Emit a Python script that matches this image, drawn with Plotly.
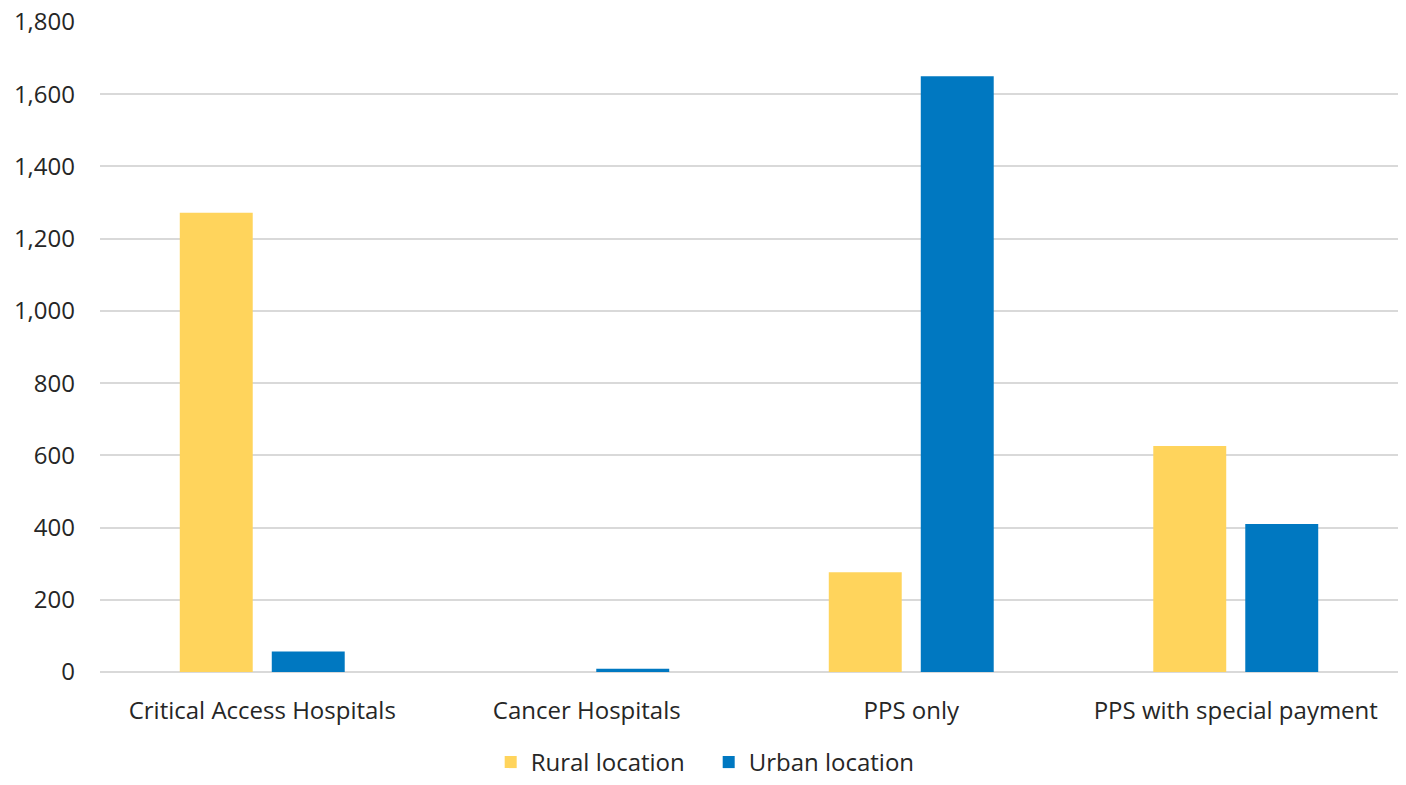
import plotly.graph_objects as go

categories = ["Critical Access Hospitals", "Cancer Hospitals", "PPS only", "PPS with special payment"]
rural = [1272, 0, 276, 626]
urban = [57, 9, 1650, 410]
y_ticks = [0, 200, 400, 600, 800, 1000, 1200, 1400, 1600, 1800]
y_tick_labels = ["0", "200", "400", "600", "800", "1,000", "1,200", "1,400", "1,600", "1,800"]

FONT = "Open Sans, Noto Sans, sans-serif"

fig = go.Figure()
fig.add_trace(go.Bar(name="Rural location", x=categories, y=rural, marker_color="#FFD45C",
                     marker_line_width=0))
fig.add_trace(go.Bar(name="Urban location", x=categories, y=urban, marker_color="#0078C1",
                     marker_line_width=0))

fig.update_layout(
    width=1406, height=785,
    margin=dict(l=100, r=8, t=22, b=113, autoexpand=False),
    paper_bgcolor="white", plot_bgcolor="white",
    barmode="group", bargap=0.433, bargroupgap=0.207,
    font=dict(family=FONT, size=24, color="#262626"),
    legend=dict(orientation="h", x=0.349, xanchor="left", xref="container",
                y=0.0, yanchor="bottom", yref="container",
                font=dict(family=FONT, size=24, color="#262626"), itemwidth=30,
                entrywidth=173, entrywidthmode="pixels",
                traceorder="normal"),
    showlegend=True,
)
fig.update_xaxes(showgrid=False, showline=False, ticks="", ticklabelstandoff=22, automargin=False,
                 tickfont=dict(family=FONT, size=24, color="#262626"))
fig.update_yaxes(range=[0, 1800], tickvals=y_ticks, ticktext=y_tick_labels, automargin=False,
                 showgrid=True, gridcolor="#d9d9d9", gridwidth=2,
                 zeroline=True, zerolinecolor="#d9d9d9", zerolinewidth=2,
                 showline=False, ticks="", ticklabelstandoff=24,
                 tickfont=dict(family=FONT, size=24, color="#262626"))

fig.write_html("out.html")
